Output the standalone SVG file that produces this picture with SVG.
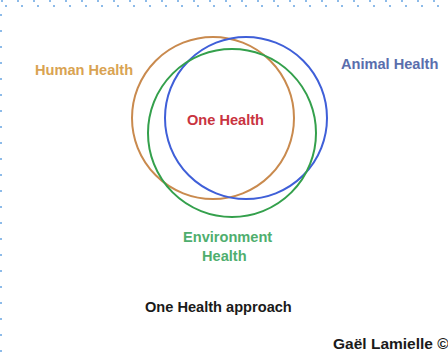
<svg xmlns="http://www.w3.org/2000/svg" width="448" height="352" viewBox="0 0 448 352">
<style>
.t{font-family:"Liberation Sans",Arial,sans-serif;font-weight:bold;font-size:14.6px}
.c{fill:none;stroke-width:2}
.dots{fill:none;stroke:#8dbbe9;stroke-width:2;stroke-dasharray:2 14}
</style>
<rect width="448" height="352" fill="#ffffff"/>
<g id="border">
<line class="dots" x1="1" y1="1" x2="448" y2="1"/>
<line class="dots" x1="5" y1="6" x2="448" y2="6"/>
<line class="dots" x1="1" y1="14" x2="1" y2="352"/>
</g>
<g id="human-health">
<circle class="c" cx="213" cy="118" r="81" stroke="#c98a4e"/>
<text class="t" x="35" y="75" fill="#d9a352">Human Health</text>
</g>
<g id="animal-health">
<circle class="c" cx="246" cy="118" r="81" stroke="#3f5fd8"/>
<text class="t" x="341" y="69" fill="#5a6ead">Animal Health</text>
</g>
<g id="environment-health">
<circle class="c" cx="232" cy="133" r="84" stroke="#34a04c"/>
<text class="t" x="183" y="242" fill="#4fae6e">Environment</text>
<text class="t" x="202" y="261" fill="#4fae6e">Health</text>
</g>
<g id="one-health">
<text class="t" x="187" y="125" fill="#c9343f">One Health</text>
</g>
<g id="caption">
<text class="t" x="145" y="312" fill="#1a1a1a">One Health approach</text>
</g>
<g id="credit">
<text class="t" x="333" y="349" fill="#1a1a1a" style="font-size:15.5px">Gaël Lamielle ©</text>
</g>
<g id="connectors"></g>
</svg>
